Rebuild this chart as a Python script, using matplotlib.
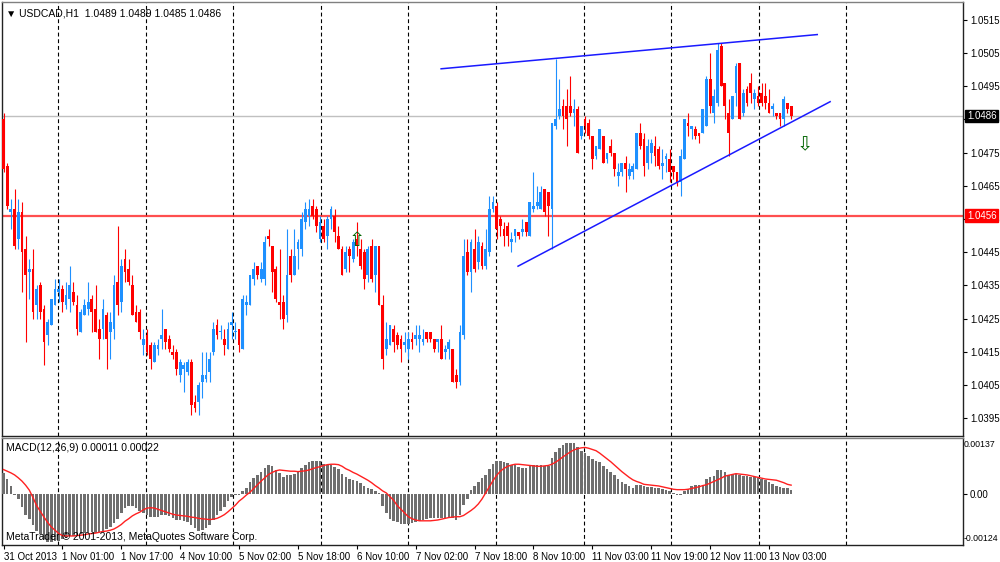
import matplotlib
matplotlib.use("Agg")
import matplotlib.pyplot as plt
import matplotlib.transforms as mtrans
import numpy as np

plt.rcParams["font.family"] = ["Liberation Sans", "DejaVu Sans"]

# USDCAD H1 candles, bar 0 = 31 Oct 2013 09:00
opens = [
    1.0485, 1.0471, 1.0457, 1.0458, 1.0449, 1.0457, 1.0446, 1.0439, 1.0440, 1.0429,
    1.0435, 1.0428, 1.0420, 1.0423, 1.0429, 1.0433, 1.0434, 1.0429, 1.0431, 1.0433,
    1.0429, 1.0421, 1.0426, 1.0428, 1.0431, 1.0428, 1.0422, 1.0422, 1.0426, 1.0421,
    1.0422, 1.0436, 1.0430, 1.0443, 1.0440, 1.0435, 1.0427, 1.0427, 1.0417, 1.0420,
    1.0417, 1.0412, 1.0416, 1.0419, 1.0422, 1.0419, 1.0415, 1.0415, 1.0408, 1.0410,
    1.0409, 1.0412, 1.0400, 1.0400, 1.0406, 1.0407, 1.0409, 1.0415, 1.0423, 1.0421,
    1.0419, 1.0416, 1.0423, 1.0421, 1.0422, 1.0416, 1.0429, 1.0429, 1.0437, 1.0441,
    1.0437, 1.0437, 1.0450, 1.0447, 1.0440, 1.0430, 1.0430, 1.0426, 1.0444, 1.0438,
    1.0446, 1.0446, 1.0454, 1.0456, 1.0459, 1.0458, 1.0449, 1.0453, 1.0450, 1.0455,
    1.0456, 1.0450, 1.0446, 1.0440, 1.0446, 1.0443, 1.0449, 1.0446, 1.0445, 1.0438,
    1.0447, 1.0438, 1.0447, 1.0429, 1.0416, 1.0417, 1.0422, 1.0420, 1.0419, 1.0417,
    1.0416, 1.0419, 1.0419, 1.0419, 1.0418, 1.0421, 1.0421, 1.0419, 1.0418, 1.0419,
    1.0415, 1.0416, 1.0416, 1.0408, 1.0406, 1.0420, 1.0445, 1.0439, 1.0446, 1.0442,
    1.0447, 1.0441, 1.0445, 1.0458, 1.0459, 1.0455, 1.0452, 1.0453, 1.0448, 1.0450,
    1.0451, 1.0451, 1.0454, 1.0450, 1.0458, 1.0459, 1.0458, 1.0464, 1.0463, 1.0458,
    1.0483, 1.0486, 1.0489, 1.0489, 1.0489, 1.0487, 1.0488, 1.0480, 1.0485, 1.0484,
    1.0480, 1.0474, 1.0476, 1.0480, 1.0473, 1.0477, 1.0475, 1.0468, 1.0469, 1.0472,
    1.0468, 1.0469, 1.0470, 1.0481, 1.0479, 1.0472, 1.0475, 1.0477, 1.0476, 1.0471,
    1.0473, 1.0473, 1.0471, 1.0469, 1.0466, 1.0473, 1.0484, 1.0482, 1.0482, 1.0481,
    1.0481, 1.0483, 1.0497, 1.0487, 1.0490, 1.0507, 1.0496, 1.0487, 1.0485, 1.0493,
    1.0502, 1.0487, 1.0494, 1.0496, 1.0491, 1.0492, 1.0493, 1.0492, 1.0490, 1.0488,
    1.0487, 1.0487, 1.0485, 1.0490, 1.0489,
]
highs = [
    1.0487, 1.0472, 1.0461, 1.0464, 1.0461, 1.0460, 1.0450, 1.0443, 1.0446, 1.0435,
    1.0436, 1.0429, 1.0425, 1.0431, 1.0437, 1.0437, 1.0435, 1.0436, 1.0441, 1.0436,
    1.0432, 1.0428, 1.0431, 1.0436, 1.0432, 1.0435, 1.0425, 1.0431, 1.0427, 1.0427,
    1.0438, 1.0453, 1.0443, 1.0446, 1.0443, 1.0438, 1.0429, 1.0428, 1.0422, 1.0422,
    1.0418, 1.0418, 1.0419, 1.0428, 1.0422, 1.0420, 1.0417, 1.0416, 1.0413, 1.0412,
    1.0413, 1.0413, 1.0402, 1.0406, 1.0415, 1.0415, 1.0415, 1.0424, 1.0425, 1.0423,
    1.0422, 1.0424, 1.0427, 1.0424, 1.0422, 1.0432, 1.0432, 1.0438, 1.0442, 1.0441,
    1.0442, 1.0450, 1.0452, 1.0447, 1.0441, 1.0446, 1.0432, 1.0452, 1.0446, 1.0452,
    1.0449, 1.0457, 1.0460, 1.0461, 1.0461, 1.0459, 1.0456, 1.0455, 1.0456, 1.0459,
    1.0458, 1.0453, 1.0447, 1.0447, 1.0447, 1.0449, 1.0454, 1.0449, 1.0446, 1.0447,
    1.0449, 1.0447, 1.0447, 1.0432, 1.0424, 1.0423, 1.0423, 1.0421, 1.0420, 1.0421,
    1.0421, 1.0421, 1.0423, 1.0423, 1.0422, 1.0421, 1.0421, 1.0419, 1.0419, 1.0423,
    1.0417, 1.0419, 1.0416, 1.0410, 1.0423, 1.0449, 1.0449, 1.0449, 1.0452, 1.0450,
    1.0448, 1.0452, 1.0462, 1.0462, 1.0460, 1.0456, 1.0454, 1.0454, 1.0451, 1.0452,
    1.0451, 1.0455, 1.0454, 1.0460, 1.0469, 1.0465, 1.0465, 1.0464, 1.0463, 1.0484,
    1.0503, 1.0497, 1.0491, 1.0494, 1.0498, 1.0491, 1.0489, 1.0483, 1.0486, 1.0485,
    1.0480, 1.0477, 1.0482, 1.0480, 1.0475, 1.0479, 1.0475, 1.0472, 1.0472, 1.0474,
    1.0472, 1.0472, 1.0481, 1.0484, 1.0481, 1.0479, 1.0479, 1.0480, 1.0477, 1.0476,
    1.0475, 1.0476, 1.0471, 1.0469, 1.0476, 1.0485, 1.0487, 1.0483, 1.0483, 1.0481,
    1.0488, 1.0498, 1.0505, 1.0494, 1.0508, 1.0508, 1.0496, 1.0491, 1.0492, 1.0502,
    1.0502, 1.0494, 1.0495, 1.0499, 1.0494, 1.0495, 1.0496, 1.0496, 1.0494, 1.0490,
    1.0487, 1.0487, 1.0492, 1.0490, 1.0489,
]
lows = [
    1.0469, 1.0458, 1.0452, 1.0446, 1.0446, 1.0433, 1.0418, 1.0431, 1.0425, 1.0425,
    1.0425, 1.0411, 1.0417, 1.0423, 1.0429, 1.0430, 1.0427, 1.0428, 1.0427, 1.0429,
    1.0420, 1.0421, 1.0426, 1.0426, 1.0421, 1.0421, 1.0413, 1.0419, 1.0410, 1.0413,
    1.0419, 1.0426, 1.0427, 1.0436, 1.0435, 1.0426, 1.0424, 1.0419, 1.0414, 1.0414,
    1.0410, 1.0412, 1.0414, 1.0416, 1.0416, 1.0415, 1.0413, 1.0408, 1.0406, 1.0403,
    1.0408, 1.0396, 1.0397, 1.0396, 1.0401, 1.0406, 1.0406, 1.0414, 1.0419, 1.0419,
    1.0414, 1.0416, 1.0419, 1.0419, 1.0415, 1.0416, 1.0426, 1.0429, 1.0435, 1.0437,
    1.0436, 1.0435, 1.0447, 1.0433, 1.0430, 1.0425, 1.0422, 1.0424, 1.0436, 1.0438,
    1.0440, 1.0444, 1.0452, 1.0453, 1.0455, 1.0451, 1.0448, 1.0448, 1.0446, 1.0452,
    1.0448, 1.0446, 1.0438, 1.0439, 1.0439, 1.0442, 1.0444, 1.0440, 1.0434, 1.0436,
    1.0436, 1.0433, 1.0429, 1.0410, 1.0414, 1.0417, 1.0415, 1.0416, 1.0412, 1.0415,
    1.0413, 1.0416, 1.0417, 1.0415, 1.0417, 1.0418, 1.0418, 1.0415, 1.0415, 1.0413,
    1.0413, 1.0413, 1.0406, 1.0404, 1.0405, 1.0419, 1.0438, 1.0433, 1.0439, 1.0440,
    1.0440, 1.0440, 1.0444, 1.0457, 1.0449, 1.0450, 1.0447, 1.0447, 1.0445, 1.0448,
    1.0449, 1.0450, 1.0450, 1.0450, 1.0457, 1.0458, 1.0458, 1.0456, 1.0450, 1.0446,
    1.0482, 1.0485, 1.0482, 1.0477, 1.0486, 1.0483, 1.0475, 1.0479, 1.0481, 1.0479,
    1.0470, 1.0473, 1.0476, 1.0472, 1.0472, 1.0474, 1.0468, 1.0465, 1.0468, 1.0463,
    1.0467, 1.0467, 1.0470, 1.0476, 1.0468, 1.0470, 1.0472, 1.0471, 1.0470, 1.0467,
    1.0469, 1.0466, 1.0467, 1.0465, 1.0462, 1.0473, 1.0480, 1.0479, 1.0479, 1.0478,
    1.0481, 1.0483, 1.0487, 1.0484, 1.0489, 1.0495, 1.0485, 1.0474, 1.0485, 1.0489,
    1.0485, 1.0486, 1.0489, 1.0490, 1.0488, 1.0489, 1.0489, 1.0488, 1.0487, 1.0486,
    1.0485, 1.0483, 1.0483, 1.0487, 1.0485,
]
closes = [
    1.0470, 1.0459, 1.0458, 1.0447, 1.0457, 1.0445, 1.0438, 1.0440, 1.0427, 1.0434,
    1.0427, 1.0418, 1.0424, 1.0431, 1.0434, 1.0434, 1.0430, 1.0432, 1.0435, 1.0430,
    1.0422, 1.0427, 1.0429, 1.0430, 1.0427, 1.0421, 1.0419, 1.0428, 1.0419, 1.0424,
    1.0435, 1.0429, 1.0441, 1.0439, 1.0436, 1.0426, 1.0424, 1.0421, 1.0419, 1.0415,
    1.0413, 1.0417, 1.0417, 1.0420, 1.0418, 1.0416, 1.0414, 1.0410, 1.0412, 1.0411,
    1.0412, 1.0399, 1.0398, 1.0405, 1.0408, 1.0408, 1.0413, 1.0422, 1.0420, 1.0421,
    1.0417, 1.0422, 1.0424, 1.0421, 1.0417, 1.0431, 1.0430, 1.0438, 1.0440, 1.0438,
    1.0440, 1.0448, 1.0449, 1.0439, 1.0431, 1.0429, 1.0425, 1.0438, 1.0438, 1.0444,
    1.0448, 1.0455, 1.0458, 1.0458, 1.0456, 1.0453, 1.0454, 1.0449, 1.0455, 1.0458,
    1.0451, 1.0446, 1.0438, 1.0445, 1.0444, 1.0448, 1.0447, 1.0441, 1.0437, 1.0446,
    1.0437, 1.0447, 1.0429, 1.0413, 1.0419, 1.0423, 1.0418, 1.0417, 1.0416, 1.0418,
    1.0419, 1.0418, 1.0420, 1.0420, 1.0419, 1.0419, 1.0419, 1.0416, 1.0419, 1.0413,
    1.0416, 1.0418, 1.0406, 1.0406, 1.0421, 1.0444, 1.0439, 1.0448, 1.0440, 1.0448,
    1.0441, 1.0446, 1.0458, 1.0460, 1.0452, 1.0453, 1.0450, 1.0450, 1.0449, 1.0452,
    1.0450, 1.0452, 1.0451, 1.0460, 1.0459, 1.0460, 1.0463, 1.0457, 1.0459, 1.0484,
    1.0485, 1.0488, 1.0486, 1.0485, 1.0487, 1.0488, 1.0475, 1.0483, 1.0483, 1.0480,
    1.0473, 1.0477, 1.0482, 1.0472, 1.0475, 1.0475, 1.0470, 1.0469, 1.0472, 1.0470,
    1.0470, 1.0471, 1.0481, 1.0477, 1.0471, 1.0477, 1.0478, 1.0474, 1.0471, 1.0472,
    1.0474, 1.0469, 1.0469, 1.0466, 1.0474, 1.0485, 1.0483, 1.0483, 1.0480, 1.0480,
    1.0488, 1.0497, 1.0489, 1.0492, 1.0506, 1.0495, 1.0489, 1.0481, 1.0492, 1.0501,
    1.0485, 1.0493, 1.0490, 1.0493, 1.0493, 1.0490, 1.0490, 1.0490, 1.0487, 1.0489,
    1.0486, 1.0485, 1.0491, 1.0488, 1.0486,
]

# MACD(12,26,9) main histogram and signal line, in units of 1e-5
macd_main = [
    52, 36, 21, -2, -13, -32, -52, -60, -76, -89,
    -97, -109, -117, -117, -115, -114, -110, -107, -102, -101,
    -99, -96, -94, -93, -93, -94, -93, -89, -85, -81,
    -70, -60, -46, -34, -29, -29, -33, -40, -47, -52,
    -55, -55, -55, -52, -52, -54, -57, -62, -63, -65,
    -67, -75, -83, -89, -88, -83, -76, -62, -52, -41,
    -31, -16, -7, -2, -1, 8, 16, 29, 39, 47,
    55, 65, 72, 68, 60, 52, 42, 46, 47, 49,
    54, 63, 70, 78, 81, 81, 80, 73, 72, 70,
    67, 62, 50, 42, 37, 34, 33, 28, 20, 16,
    13, 8, 3, -29, -47, -60, -65, -68, -72, -72,
    -72, -70, -67, -65, -63, -60, -59, -59, -57, -59,
    -59, -57, -59, -63, -52, -26, -11, 10, 20, 29,
    39, 47, 62, 73, 80, 80, 78, 75, 70, 70,
    67, 65, 65, 68, 70, 70, 70, 68, 68, 88,
    102, 112, 119, 124, 125, 124, 114, 106, 101, 94,
    86, 81, 78, 68, 62, 54, 46, 37, 29, 24,
    20, 16, 23, 23, 20, 18, 18, 16, 15, 13,
    11, 8, 3, -3, -1, 8, 13, 21, 23, 23,
    23, 37, 42, 44, 59, 60, 54, 47, 49, 50,
    46, 44, 44, 42, 41, 39, 37, 34, 29, 24,
    21, 18, 16, 15, 11,
]
macd_signal = [
    60, 56, 52, 47, 40, 32, 22, 10, -8, -28,
    -42, -56, -69, -80, -88, -96, -101, -102, -102, -102,
    -101, -100, -99, -97, -96, -95, -93, -91, -90, -88,
    -85, -80, -74, -66, -60, -53, -48, -44, -38, -34,
    -33, -34, -37, -40, -43, -46, -49, -51, -52, -53,
    -54, -56, -57, -59, -60, -61, -62, -61, -59, -55,
    -50, -43, -35, -27, -17, -10, -2, 5, 14, 23,
    32, 40, 48, 53, 57, 59, 58, 57, 56, 56,
    55, 56, 57, 59, 62, 65, 67, 70, 72, 73,
    73, 72, 68, 62, 58, 53, 49, 44, 39, 34,
    28, 21, 15, 8, 3, -6, -15, -28, -37, -46,
    -55, -60, -63, -65, -65, -65, -65, -64, -63, -61,
    -59, -57, -56, -55, -55, -52, -46, -40, -33, -24,
    -12, 3, 18, 33, 46, 56, 63, 68, 71, 73,
    73, 72, 71, 70, 69, 68, 68, 69, 70, 73,
    78, 84, 91, 97, 103, 108, 111, 113, 114, 112,
    109, 106, 100, 93, 86, 79, 71, 63, 55, 48,
    41, 35, 31, 28, 24, 23, 22, 21, 20, 18,
    16, 14, 12, 11, 11, 11, 12, 14, 16, 18,
    21, 23, 27, 31, 35, 39, 44, 46, 48, 50,
    49, 48, 47, 45, 43, 41, 39, 37, 36, 35,
    34, 31, 28, 24, 22,
]

time_labels = ["31 Oct 2013", "1 Nov 01:00", "1 Nov 17:00", "4 Nov 10:00",
               "5 Nov 02:00", "5 Nov 18:00", "6 Nov 10:00", "7 Nov 02:00",
               "7 Nov 18:00", "8 Nov 10:00", "11 Nov 03:00", "11 Nov 19:00",
               "12 Nov 11:00", "13 Nov 03:00"]

bid_price = 1.0486
level_price = 1.0456
# trend lines drawn on the chart: (bar, price) end points
upper_trend = [(118.9, 1.05002), (221.1, 1.05105)]
lower_trend = [(139.8, 1.04408), (224.6, 1.04903)]
buy_arrow = (96.1, 1.04484)
sell_arrow = (217.8, 1.04773)

UP = "#1e90ff"
DOWN = "#ff0000"

o = np.array(opens)
h = np.array(highs)
l = np.array(lows)
c = np.array(closes)
x = np.arange(len(c))
hist = np.array(macd_main) * 1e-5
sig = np.array(macd_signal) * 1e-5

fig = plt.figure(figsize=(10, 5.62), dpi=100)
ax = fig.add_axes([0.002, 1 - 436 / 562, 0.961, 434 / 562])
ax2 = fig.add_axes([0.002, 1 - 545 / 562, 0.961, 107 / 562])

xlim = (-0.41, 260.7)
grid_x = np.arange(14.8, 240, 23.8)

for a in (ax, ax2):
    a.set_xlim(*xlim)
    a.set_facecolor("white")
    for s in a.spines.values():
        s.set_color("#222222")
        s.set_linewidth(1.0)
    a.spines["top"].set_color("#808080")
    a.yaxis.tick_right()
    a.tick_params(axis="y", length=3, width=0.8, pad=2, labelsize=7, colors="black")
    for gx in grid_x:
        a.axvline(gx, color="black", lw=0.8, ls=(0, (3.5, 2.5)), zorder=0)

# --- price panel
up = c >= o
colors = np.where(up, UP, DOWN)
ax.vlines(x, l, h, colors=colors, lw=0.8, zorder=3)
body_lo = np.minimum(o, c)
body_h = np.maximum(np.abs(c - o), 0.00002)
ax.bar(x, body_h, bottom=body_lo, width=0.75, color=colors, lw=0, zorder=4)

ax.axhline(bid_price, color="#c0c0c0", lw=1.0, zorder=2)
ax.axhline(level_price, color="#ff3030", lw=1.6, alpha=0.85, zorder=2)

for pts in (upper_trend, lower_trend):
    ax.plot([p[0] for p in pts], [p[1] for p in pts], color="#1a1aff", lw=1.1, zorder=5)

ax.text(buy_arrow[0], buy_arrow[1], "\u21e7", color="#006400", fontsize=14,
        ha="center", va="center", family=["DejaVu Sans"], zorder=6)
ax.text(sell_arrow[0], sell_arrow[1], "\u21e9", color="#006400", fontsize=14,
        ha="center", va="center", family=["DejaVu Sans"], zorder=6)

ax.set_ylim(1.03897, 1.05203)
price_ticks = np.round(np.arange(1.0395, 1.0516, 0.001), 4)
ax.set_yticks(price_ticks)
ax.set_yticklabels([f"{t:.4f}" for t in price_ticks])
ax.set_xticks([])

trans = mtrans.blended_transform_factory(ax.transAxes, ax.transData)
ax.text(1.004, bid_price, f"{bid_price:.4f}", transform=trans, fontsize=7, color="white",
        va="center", ha="left", zorder=10,
        bbox=dict(boxstyle="square,pad=0.15", fc="black", ec="black"))
ax.text(1.004, level_price, f"{level_price:.4f}", transform=trans, fontsize=7, color="white",
        va="center", ha="left", zorder=10,
        bbox=dict(boxstyle="square,pad=0.15", fc="#ff0000", ec="#ff0000"))

ax.text(0.004, 0.985, "\u25bc USDCAD,H1  1.0489 1.0489 1.0485 1.0486", transform=ax.transAxes,
        fontsize=7.5, va="top", ha="left")

# --- MACD panel
ax2.bar(x, hist, width=0.7, color="#6e6e6e", lw=0, zorder=3)
ax2.plot(x, sig, color="#ff2020", lw=1.0, zorder=4)
ax2.set_ylim(-0.00124, 0.00137)
ax2.set_yticks([0.0])
ax2.set_yticklabels(["0.00"])
ax2.text(1.001, 0.985, "0.00137", transform=ax2.transAxes, fontsize=6.3, va="top", ha="left")
ax2.text(1.001, 0.015, "-0.00124", transform=ax2.transAxes, fontsize=6.3, va="bottom", ha="left")
ax2.text(0.004, 0.95, "MACD(12,26,9) 0.00011 0.00022", transform=ax2.transAxes,
         fontsize=7.5, va="top", ha="left", zorder=6)
ax2.text(0.004, 0.03, "MetaTrader \u00a9 2001-2013, MetaQuotes Software Corp.",
         transform=ax2.transAxes, fontsize=7.5, va="bottom", ha="left", zorder=6)

tick_pos = np.arange(len(time_labels)) * 16
ax2.set_xticks(tick_pos)
ax2.set_xticklabels(time_labels, ha="left", fontsize=7)
ax2.tick_params(axis="x", length=3, width=0.8, pad=2)

fig.savefig("out.png", dpi=100, facecolor="white")
